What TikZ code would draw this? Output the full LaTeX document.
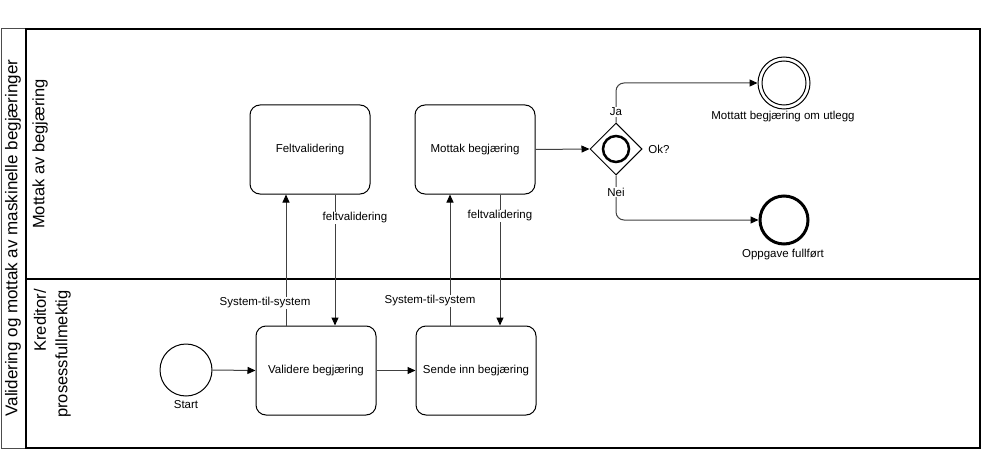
\documentclass[tikz,border=0pt]{standalone}
\usepackage{fontspec}
\setmainfont{Liberation Sans}
\usetikzlibrary{arrows.meta,shapes.geometric}
\begin{document}
\begin{tikzpicture}[x=1pt,y=-1pt,
  task/.style={draw=black, line width=1pt, rounded corners=10pt, minimum width=120pt, minimum height=89pt, font=\fontsize{11.5}{14}\selectfont, inner sep=0pt},
  flow/.style={draw=black!75, line width=1pt, -{Triangle[length=8pt,width=7pt,color=black]}},
  lbl/.style={font=\fontsize{11.5}{14}\selectfont, fill=white, inner sep=1pt},
  txt/.style={font=\fontsize{11.5}{14}\selectfont, inner sep=1pt},
  lanelbl/.style={rotate=90, font=\fontsize{16.5}{20}\selectfont, inner sep=0pt},
  ]
\useasboundingbox (0,0) rectangle (1000,468);
% pool
\draw[black!70, line width=1pt] (1,29) rectangle (26,448);
\draw[black, line width=2pt] (26,29) rectangle (980,448);
\draw[black, line width=2pt] (26,279) -- (980,279);
\node[lanelbl, font=\fontsize{17}{20}\selectfont] (pool) at (13,238) {Validering og mottak av maskinelle begjæringer};
\node[lanelbl] (lane1) at (40,154) {Mottak av begjæring};
\node[lanelbl, anchor=east] (lane2a) at (40,289) {Kreditor/};
\node[lanelbl, anchor=east] (lane2b) at (63,290) {prosessfullmektig};
% nodes
\node[circle, draw=black, line width=1pt, minimum size=52pt, inner sep=0pt] (start) at (186,370) {};
\node[txt] (startlbl) at (186,405) {Start};
\node[task] (valid) at (316,370.5) {Validere begjæring};
\node[task] (sende) at (476,370.5) {Sende inn begjæring};
\node[task] (felt) at (310,149.5) {Feltvalidering};
\node[task] (mottak) at (475,149.5) {Mottak begjæring};
\node[diamond, draw=black, line width=1pt, minimum size=52pt, inner sep=0pt, aspect=1] (gw) at (616,149) {};
\node[circle, draw=black, line width=2.5pt, minimum size=26pt, inner sep=0pt] (gwin) at (616,149) {};
\node[txt] (ok) at (659,149) {Ok?};
\node[circle, draw=black, line width=1pt, minimum size=52pt, inner sep=0pt] (end1) at (784,83) {};
\node[circle, draw=black, line width=1pt, minimum size=44pt, inner sep=0pt] (end1in) at (784,83) {};
\node[txt] (end1lbl) at (783,117) {Mottatt begjæring om utlegg};
\node[circle, draw=black, line width=3pt, minimum size=48pt, inner sep=0pt] (end2) at (784,220) {};
\node[txt] (end2lbl) at (783,255) {Oppgave fullført};
% helper coordinates
\coordinate (u1) at (286,0);
\coordinate (d1) at (335,0);
\coordinate (u2) at (450,0);
\coordinate (d2) at (500,0);
% flows
\draw[flow] (start.east) -- (valid.west);
\draw[flow] (valid.east) -- (sende.west);
\draw[flow] (valid.north -| u1) -- (felt.south -| u1);
\draw[flow] (felt.south -| d1) -- (valid.north -| d1);
\draw[flow] (sende.north -| u2) -- (mottak.south -| u2);
\draw[flow] (mottak.south -| d2) -- (sende.north -| d2);
\draw[flow] (mottak.east) -- (gw.west);
\draw[flow, rounded corners=8pt] (gw.north) |- (end1.west);
\draw[flow, rounded corners=8pt] (gw.south) |- (end2.west);
% edge labels
\node[lbl] (l1) at (265,303) {System-til-system};
\node[lbl] (l2) at (355,218) {feltvalidering};
\node[lbl] (l3) at (430,301) {System-til-system};
\node[lbl] (l4) at (500,216) {feltvalidering};
\node[lbl] (ja) at (616,112) {Ja};
\node[lbl] (nei) at (616,192) {Nei};
\end{tikzpicture}
\end{document}
